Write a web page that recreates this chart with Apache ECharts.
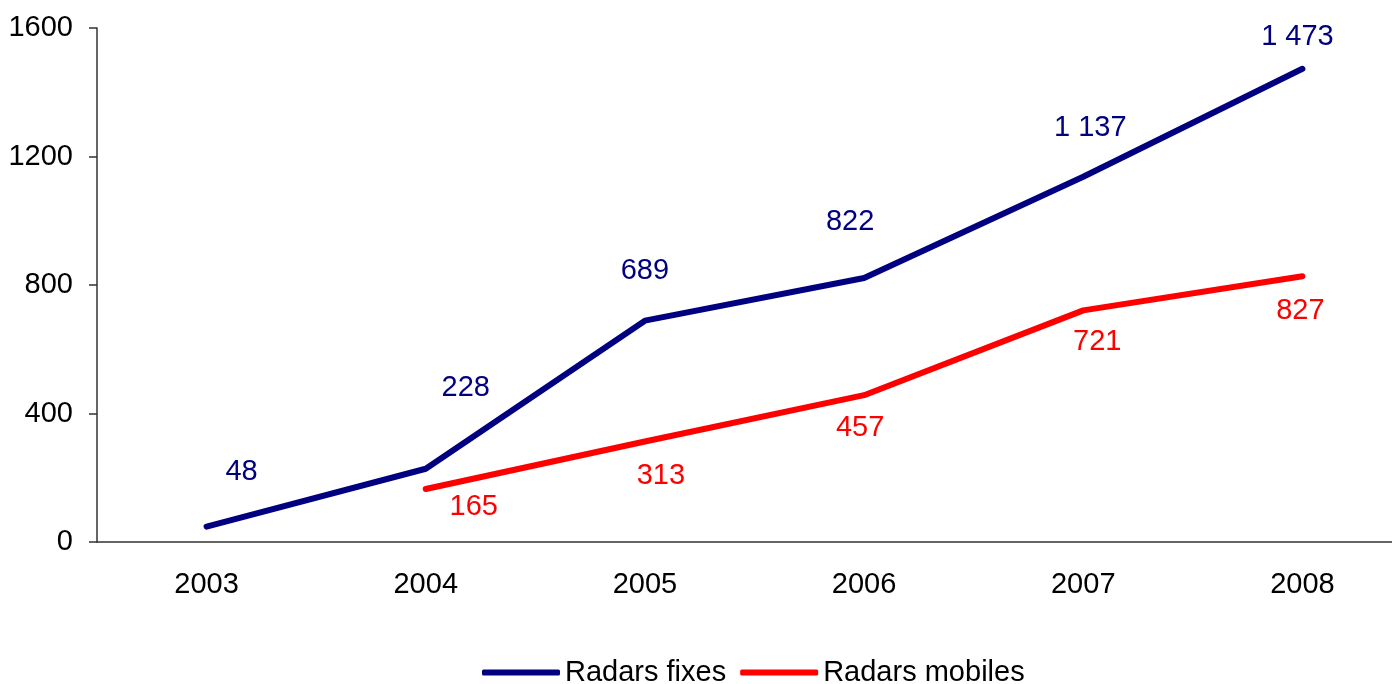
<!DOCTYPE html>
<html>
<head>
<meta charset="utf-8">
<script src="https://cdn.jsdelivr.net/npm/echarts@6/dist/echarts.min.js"></script>
<style>
html,body{margin:0;padding:0;background:#fff;overflow:hidden;width:1392px;height:684px;}
#chart{width:1412px;height:684px;}
</style>
</head>
<body>
<div id="chart"></div>
<script>
var years = ['2003', '2004', '2005', '2006', '2007', '2008'];
var radarsFixes = [48, 228, 689, 822, 1137, 1473];
var radarsMobiles = [null, 165, 313, 457, 721, 827];
var seriesNames = ['Radars fixes', 'Radars mobiles'];
var yTicks = [0, 400, 800, 1200, 1600];

// label offsets (pixels) relative to each point
var fixesLabelOffset = [[35, -55], [40, -81], [0, -50], [-14, -56], [7, -49], [-5, -32]];
var mobilesLabelOffset = [[0, 0], [48, 18], [16, 35], [-4, 33], [14, 32], [-2, 35]];

var FONT = '"Liberation Sans", Arial, sans-serif';
var FS = 29;
var BLUE = '#000080';
var RED = '#FF0000';

function fmt(v) {
  var s = String(v);
  return s.replace(/\B(?=(\d{3})+(?!\d))/g, ' ');
}

function buildData(values, offsets, color) {
  return values.map(function (v, i) {
    if (v === null) return null;
    return {
      value: v,
      label: {
        show: true,
        position: 'inside',
        offset: offsets[i],
        formatter: function (p) { return fmt(p.value); },
        color: color,
        fontSize: FS,
        fontFamily: FONT
      }
    };
  });
}

var chart = echarts.init(document.getElementById('chart'), null, {renderer: 'canvas'});
chart.setOption({
  animation: false,
  backgroundColor: '#ffffff',
  grid: {left: 97, top: 28, right: 0, bottom: 142, containLabel: false},
  legend: {
    left: 477,
    top: 653,
    itemWidth: 78,
    itemHeight: 6,
    itemGap: 14,
    icon: 'roundRect',
    textStyle: {color: '#000', fontSize: FS, fontFamily: FONT},
    data: seriesNames
  },
  xAxis: {
    type: 'category',
    data: years,
    boundaryGap: true,
    axisLine: {show: true, lineStyle: {color: '#333', width: 1.5}},
    axisTick: {show: false},
    axisLabel: {color: '#000', fontSize: FS, fontFamily: FONT, margin: 28},
    splitLine: {show: false}
  },
  yAxis: {
    type: 'value',
    min: yTicks[0],
    max: yTicks[yTicks.length - 1],
    interval: yTicks[1] - yTicks[0],
    axisLine: {show: true, lineStyle: {color: '#333', width: 1.5}},
    axisTick: {show: true, length: 8, inside: false, lineStyle: {color: '#333', width: 1.5}},
    axisLabel: {color: '#000', fontSize: FS, fontFamily: FONT, margin: 24,
      formatter: function (v) { return String(v); }},
    splitLine: {show: false}
  },
  series: [
    {
      name: seriesNames[0],
      type: 'line',
      data: buildData(radarsFixes, fixesLabelOffset, BLUE),
      symbol: 'circle',
      symbolSize: 1,
      showSymbol: true,
      itemStyle: {color: BLUE},
      lineStyle: {color: BLUE, width: 6, cap: 'round', join: 'round'},
      z: 3
    },
    {
      name: seriesNames[1],
      type: 'line',
      data: buildData(radarsMobiles, mobilesLabelOffset, RED),
      symbol: 'circle',
      symbolSize: 1,
      showSymbol: true,
      connectNulls: false,
      itemStyle: {color: RED},
      lineStyle: {color: RED, width: 6, cap: 'round', join: 'round'},
      z: 2
    }
  ]
});
</script>
</body>
</html>
